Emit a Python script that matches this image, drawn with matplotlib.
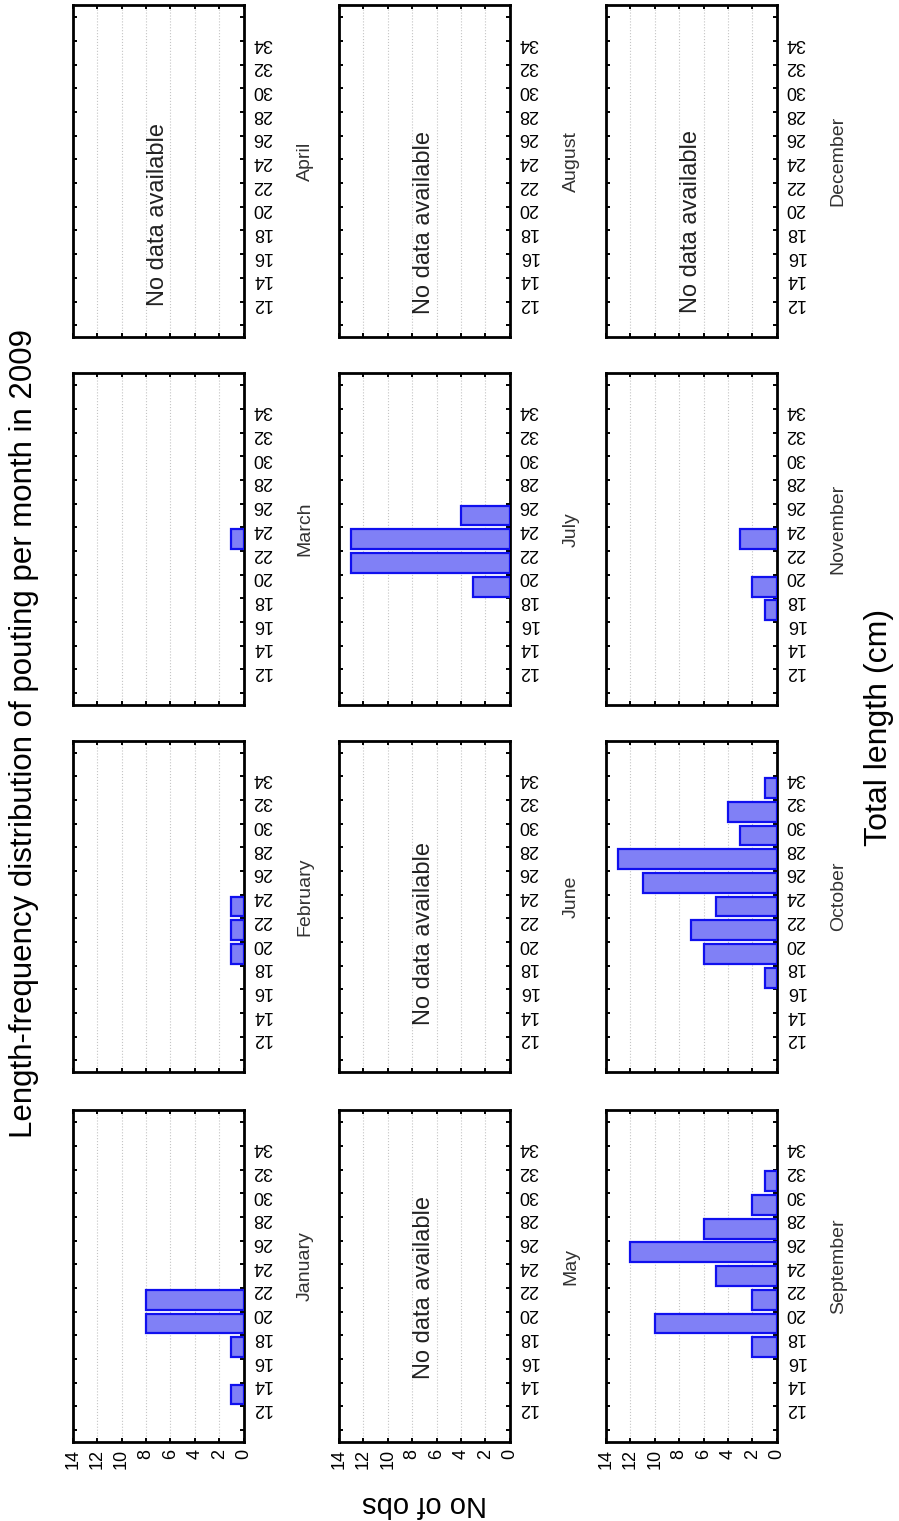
import numpy as np
import matplotlib
matplotlib.use("Agg")
import matplotlib.pyplot as plt

plt.rcParams['font.family'] = ['Liberation Sans', 'DejaVu Sans']

# length classes (lower edge of each 2 cm bin)
bin_lower = [12, 14, 16, 18, 20, 22, 24, 26, 28, 30, 32]

months = ['January', 'February', 'March', 'April',
          'May', 'June', 'July', 'August',
          'September', 'October', 'November', 'December']

# number of fish per length class, None = no sampling that month
jan = [1, 0, 1, 8, 8, 0, 0, 0, 0, 0, 0]
feb = [0, 0, 0, 1, 1, 1, 0, 0, 0, 0, 0]
mar = [0, 0, 0, 0, 0, 1, 0, 0, 0, 0, 0]
apr = None
may = None
jun = None
jul = [0, 0, 0, 3, 13, 13, 4, 0, 0, 0, 0]
aug = None
sep = [0, 0, 2, 10, 2, 5, 12, 6, 2, 1, 0]
octo = [0, 0, 1, 6, 7, 5, 11, 13, 3, 4, 1]
nov = [0, 0, 1, 2, 0, 3, 0, 0, 0, 0, 0]
dec = None

counts = [jan, feb, mar, apr, may, jun, jul, aug, sep, octo, nov, dec]

# where the "No data available" note sits (axes fraction, along length axis)
nodata_y = {'April': 0.37, 'May': 0.467, 'June': 0.42,
            'August': 0.345, 'December': 0.35}

fig = plt.figure(figsize=(8.99, 15.21), dpi=100)

col_left = [0.081, 0.377, 0.674]
row_bottom = [0.052, 0.295, 0.5365, 0.7784]
w, h = 0.190, 0.218

length_ticks = np.arange(10, 38, 2)
length_labels = ['' if t in (10, 36) else str(t) for t in length_ticks]

for i, (month, c) in enumerate(zip(months, counts)):
    col, row = i // 4, i % 4
    ax = fig.add_axes([col_left[col], row_bottom[row], w, h])

    if c is not None:
        # only the non-empty length classes get a bar
        centers = [b + 1 for b, n in zip(bin_lower, c) if n > 0]
        values = [n for n in c if n > 0]
        ax.barh(centers, values, height=1.68, color='#8080f6',
                edgecolor='#1010ee', linewidth=1.6, zorder=3)
    else:
        ax.text(0.5, nodata_y[month], 'No data available', rotation=90,
                transform=ax.transAxes, ha='center', va='center',
                fontsize=17, color='#222222')

    ax.set_xlim(14, 0)
    ax.set_ylim(9, 37)
    ax.set_xticks(np.arange(0, 16, 2))
    ax.set_yticks(length_ticks)
    ax.set_yticklabels(length_labels)
    ax.grid(axis='x', linestyle=':', color='#c4c4c4', linewidth=0.8, zorder=0)

    ax.tick_params(axis='both', direction='in', length=3, width=1.4,
                   top=True, bottom=True, left=True, right=True, labelsize=13)
    ax.tick_params(axis='y', labelleft=False, labelright=True,
                   labelrotation=180, pad=6)
    ax.tick_params(axis='x', labelrotation=90, pad=5, labelbottom=(row == 0))

    for s in ax.spines.values():
        s.set_linewidth(2)

    ax.text(1.36, 0.53, month, rotation=90, transform=ax.transAxes,
            ha='center', va='center', fontsize=14, color='#333333')

fig.text(0.027, 0.518, 'Length-frequency distribution of pouting per month in 2009',
         rotation=90, ha='center', va='center', fontsize=22.5)
fig.text(0.978, 0.5215, 'Total length (cm)', rotation=90,
         ha='center', va='center', fontsize=23)
fig.text(0.472, 0.011, 'No of obs', rotation=180,
         ha='center', va='center', fontsize=21)

fig.savefig('out.png', dpi=100)
